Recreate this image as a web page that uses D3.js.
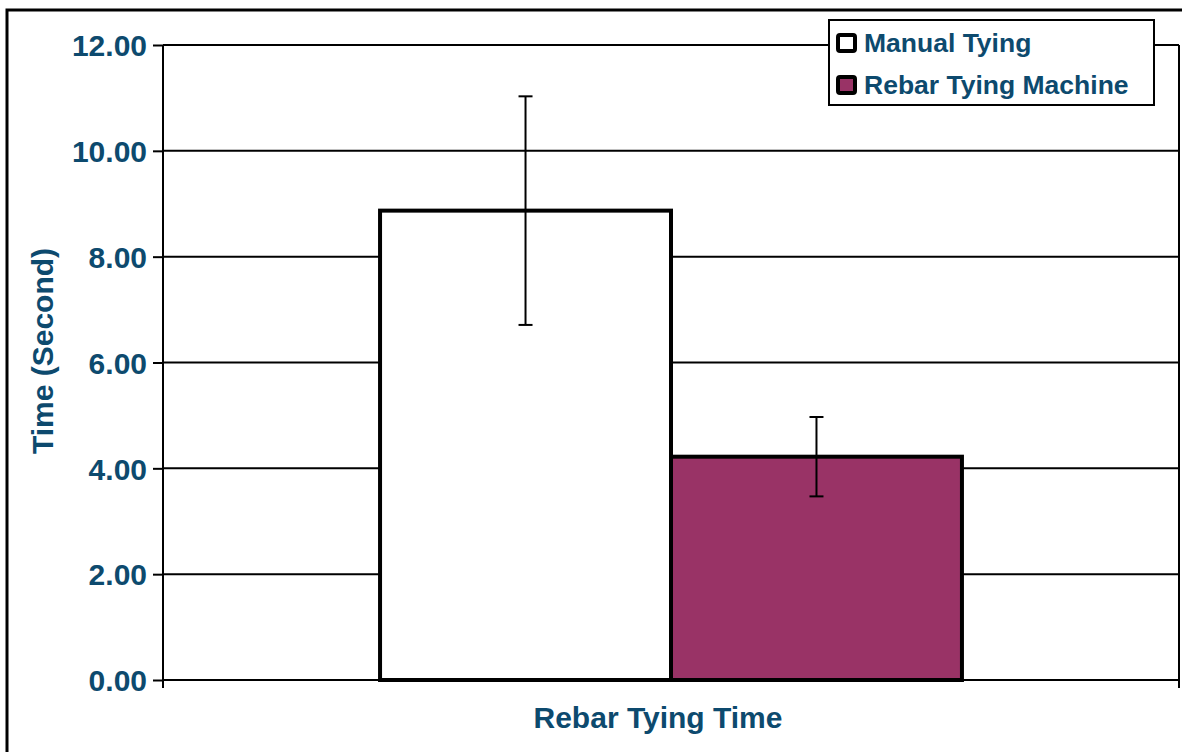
<!DOCTYPE html>
<html>
<head>
<meta charset="utf-8">
<script src="https://cdn.jsdelivr.net/npm/d3@7"></script>
<style>
  body { margin: 0; background: #fff; }
  text { font-family: "Liberation Sans", Arial, Helvetica, sans-serif; font-weight: bold; fill: #0d4a6e; }
</style>
</head>
<body>
<svg width="1182" height="752"></svg>
<script>
var svg = d3.select("svg"),
    width = +svg.attr("width"),
    height = +svg.attr("height");

// data
var categories = ["Rebar Tying Time"];
var series = ["Manual Tying", "Rebar Tying Machine"];
var means = [8.87, 4.22];
var errors = [2.16, 0.75];
var colors = ["#ffffff", "#993366"];
var yTicks = [0, 2, 4, 6, 8, 10, 12];

var margin = {left: 163, top: 45, right: 3, bottom: 72};
var w = width - margin.left - margin.right,
    h = height - margin.top - margin.bottom;

// outer frame (only top/left visible)
svg.append("rect")
  .attr("x", 7).attr("y", 10)
  .attr("width", width + 20).attr("height", height + 20)
  .attr("fill", "none").attr("stroke", "#000").attr("stroke-width", 3);

var g = svg.append("g").attr("transform", "translate(" + margin.left + "," + margin.top + ")");

var y = d3.scaleLinear().domain([0, 12]).range([h, 0]);
var x0 = d3.scaleBand().domain(categories).range([0, w]).paddingInner(0).paddingOuter(0.373);
var x1 = d3.scaleBand().domain(series).range([0, x0.bandwidth()]);

// gridlines
g.selectAll(".grid")
  .data(yTicks)
  .enter().append("line")
  .attr("x1", 0).attr("x2", w)
  .attr("y1", function(d) { return y(d); })
  .attr("y2", function(d) { return y(d); })
  .attr("stroke", "#000").attr("stroke-width", 2);

// y axis
var yAxis = g.append("g")
  .call(d3.axisLeft(y).tickValues(yTicks).tickFormat(d3.format(".2f")).tickSize(10).tickPadding(6));
yAxis.select(".domain").remove();
yAxis.selectAll(".tick line").attr("stroke", "#000").attr("stroke-width", 2);
yAxis.selectAll("text").style("font-size", "30px").attr("fill", "#0d4a6e").attr("dy", "0.36em");

// plot frame verticals
g.append("line").attr("x1", 0).attr("x2", 0).attr("y1", 0).attr("y2", h + 8)
  .attr("stroke", "#000").attr("stroke-width", 2);
g.append("line").attr("x1", w).attr("x2", w).attr("y1", 0).attr("y2", h + 8)
  .attr("stroke", "#000").attr("stroke-width", 2);

// bars
var grp = g.selectAll(".cat")
  .data(categories)
  .enter().append("g")
  .attr("transform", function(d) { return "translate(" + x0(d) + ",0)"; });

grp.selectAll("rect")
  .data(series.map(function(s, i) { return {s: s, v: means[i], e: errors[i], c: colors[i]}; }))
  .enter().append("rect")
  .attr("x", function(d) { return x1(d.s); })
  .attr("y", function(d) { return y(d.v); })
  .attr("width", x1.bandwidth())
  .attr("height", function(d) { return h - y(d.v); })
  .attr("fill", function(d) { return d.c; })
  .attr("stroke", "#000").attr("stroke-width", 4);

// error bars
var eb = grp.selectAll(".err")
  .data(series.map(function(s, i) { return {s: s, v: means[i], e: errors[i]}; }))
  .enter().append("g");
eb.append("line")
  .attr("x1", function(d) { return x1(d.s) + x1.bandwidth() / 2; })
  .attr("x2", function(d) { return x1(d.s) + x1.bandwidth() / 2; })
  .attr("y1", function(d) { return y(d.v - d.e); })
  .attr("y2", function(d) { return y(d.v + d.e); })
  .attr("stroke", "#000").attr("stroke-width", 2);
[-1, 1].forEach(function(sgn) {
  eb.append("line")
    .attr("x1", function(d) { return x1(d.s) + x1.bandwidth() / 2 - 7; })
    .attr("x2", function(d) { return x1(d.s) + x1.bandwidth() / 2 + 7; })
    .attr("y1", function(d) { return y(d.v + sgn * d.e); })
    .attr("y2", function(d) { return y(d.v + sgn * d.e); })
    .attr("stroke", "#000").attr("stroke-width", 2);
});

// axis titles
svg.append("text")
  .attr("x", 658).attr("y", 728)
  .attr("text-anchor", "middle")
  .style("font-size", "30px")
  .text(categories[0]);

svg.append("text")
  .attr("transform", "translate(53,351) rotate(-90)")
  .attr("text-anchor", "middle")
  .style("font-size", "30px")
  .text("Time (Second)");

// legend
var lg = svg.append("g").attr("transform", "translate(829,20)");
lg.append("rect").attr("width", 325).attr("height", 85)
  .attr("fill", "#fff").attr("stroke", "#000").attr("stroke-width", 2);
var items = lg.selectAll(".item")
  .data(series)
  .enter().append("g")
  .attr("transform", function(d, i) { return "translate(0," + (i * 42) + ")"; });
items.append("rect")
  .attr("x", 9).attr("y", 15).attr("width", 17).attr("height", 16).attr("rx", 2)
  .attr("fill", function(d, i) { return colors[i]; })
  .attr("stroke", "#000").attr("stroke-width", 4);
items.append("text")
  .attr("x", 35).attr("y", 32)
  .style("font-size", "26.5px")
  .text(function(d) { return d; });
</script>
</body>
</html>
